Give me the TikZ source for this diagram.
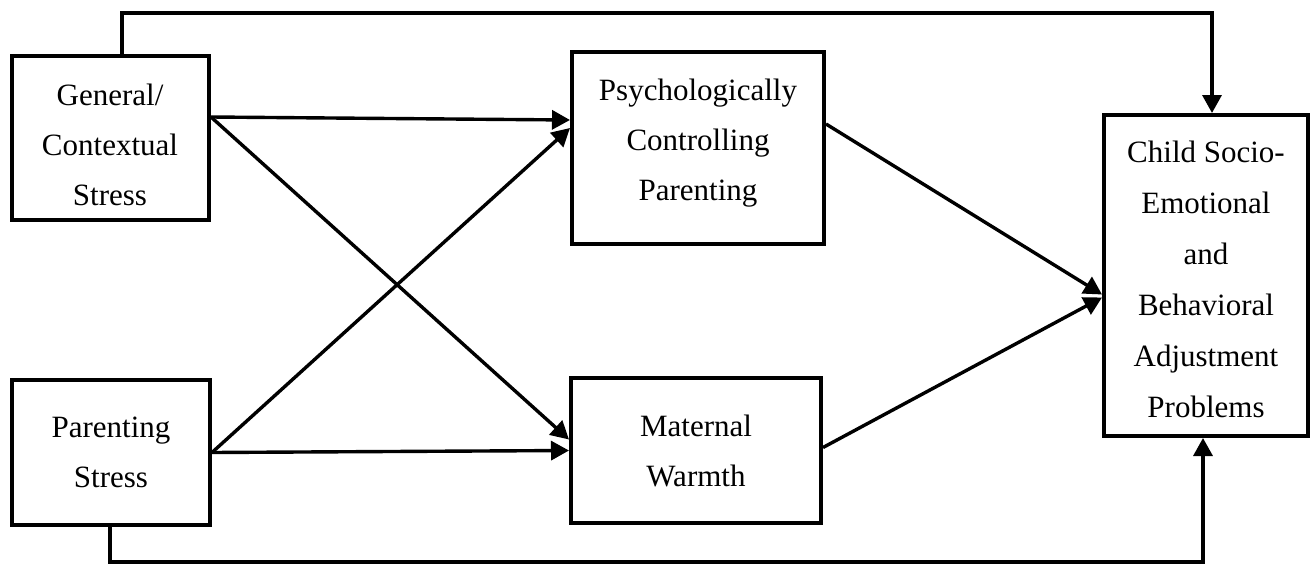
\documentclass[tikz,border=0pt]{standalone}
\usepackage{fontspec}
\setmainfont{Liberation Serif}
\usetikzlibrary{arrows.meta}
\begin{document}
\begin{tikzpicture}[x=1pt,y=-1pt,
  box/.style={draw,line width=4pt,inner sep=0pt,rectangle},
  lbl/.style={align=center,inner sep=0pt,font=\fontsize{31}{50}\selectfont},
  arr/.style={line width=3.4pt,-{Triangle[length=18pt,width=19pt]}}]
\useasboundingbox (0,0) rectangle (1312,565);

% boxes
\node[box,minimum width=197pt,minimum height=164pt] (gen) at (110.5,138) {};
\node[box,minimum width=198pt,minimum height=145pt] (par) at (111,452.5) {};
\node[box,minimum width=252pt,minimum height=192pt] (psy) at (698,148) {};
\node[box,minimum width=250pt,minimum height=145pt] (mat) at (696,450.5) {};
\node[box,minimum width=204pt,minimum height=321pt] (chi) at (1206,275.5) {};

% box texts
\node[lbl] (gen-t) at (110,145) {General/\\Contextual\\Stress};
\node[lbl] (par-t) at (111,452.5) {Parenting\\Stress};
\node[lbl] (psy-t) at (698,143.5) {Psychologically\\Controlling\\Parenting};
\node[lbl] (mat-t) at (696,451) {Maternal\\Warmth};
\node[lbl,font=\fontsize{31}{51}\selectfont] (chi-t) at (1206,279.5) {Child Socio-\\Emotional\\and\\Behavioral\\Adjustment\\Problems};

% direct paths over the top and along the bottom
\coordinate (t1) at (122,13);
\coordinate (t2) at (1212,13);
\coordinate (b1) at (110,562);
\coordinate (b2) at (1203,562);
\draw[arr] (gen.north -| t1) -- (t1) -- (t2) -- (chi.north -| t2);
\draw[arr] (par.south -| b1) -- (b1) -- (b2) -- (chi.south -| b2);

% stress to parenting
\draw[arr] ([yshift=21pt]gen.east) -- ([yshift=28pt]psy.west);
\draw[arr] ([yshift=21pt]gen.east) -- ([yshift=11pt]mat.west);
\draw[arr] (par.east) -- ([yshift=20pt]psy.west);
\draw[arr] (par.east) -- (mat.west);

% parenting to child outcome
\draw[arr] ([yshift=24pt]psy.east) -- ([yshift=-19pt]chi.west);
\draw[arr] ([yshift=3pt]mat.east) -- ([yshift=-22pt]chi.west);
\end{tikzpicture}
\end{document}
